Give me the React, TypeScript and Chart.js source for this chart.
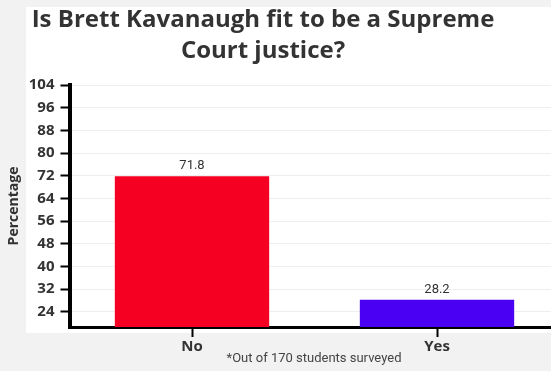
import React, { useEffect, useRef } from "react";
import { Chart, registerables } from "chart.js";
Chart.register(...registerables);

const categories = ["No", "Yes"];
const values = [71.8, 28.2];
const barColors = ["#F50022", "#4A00F2"];
const yTicks = [24, 32, 40, 48, 56, 64, 72, 80, 88, 96, 104];
const yMin = 18.6;
const yMax = 104;
const titleLines = ["Is Brett Kavanaugh fit to be a Supreme", "Court justice?"];
const yAxisTitle = "Percentage";
const footnote = "*Out of 170 students surveyed";

const CANVAS_W = 570;
const CANVAS_H = 371;

const decorPlugin = {
  id: "decor",
  beforeDraw(chart: any) {
    const { ctx, chartArea } = chart;
    ctx.save();
    ctx.fillStyle = "#f2f2f2";
    ctx.fillRect(0, 0, chart.width, chart.height);
    ctx.fillStyle = "#ffffff";
    ctx.fillRect(26, 7, chart.width - 26, chartArea.bottom + 6 - 7);
    ctx.restore();
  },
  afterDraw(chart: any) {
    const { ctx } = chart;
    ctx.save();
    ctx.fillStyle = "#333333";
    ctx.textAlign = "center";
    ctx.textBaseline = "alphabetic";
    ctx.font = "bold 24px 'Open Sans'";
    ctx.fillText(titleLines[0], 263, 27);
    ctx.fillText(titleLines[1], 263, 58);
    ctx.font = "13px Roboto";
    ctx.fillStyle = "#444444";
    ctx.fillText(footnote, 314, 362);
    const meta = chart.getDatasetMeta(0);
    ctx.font = "13px Roboto";
    ctx.fillStyle = "#333333";
    meta.data.forEach((bar: any, i: number) => {
      ctx.fillText(String(values[i]), bar.x, bar.y - 7);
    });
    ctx.restore();
  },
};

export default function App() {
  const ref = useRef<HTMLCanvasElement>(null);
  useEffect(() => {
    if (!ref.current) return;
    const chart = new Chart(ref.current, {
      type: "bar",
      data: {
        labels: categories,
        datasets: [
          {
            data: values,
            backgroundColor: barColors,
            borderWidth: 0,
            barPercentage: 0.63,
            categoryPercentage: 1,
          },
        ],
      },
      options: {
        responsive: false,
        animation: false,
        devicePixelRatio: 1,
        layout: { padding: { top: 85, right: 10.5, left: 0, bottom: 0 } },
        plugins: {
          legend: { display: false },
          title: { display: false },
          tooltip: { enabled: false },
        },
        scales: {
          x: {
            afterFit: (s: any) => {
              s.height = 44;
            },
            border: { color: "#000", width: 3 },
            grid: {
              offset: false,
              drawOnChartArea: false,
              tickColor: "#000",
              tickLength: 10,
              tickWidth: 2,
            },
            ticks: {
              color: "#333",
              font: { family: "'Open Sans'", weight: "bold", size: 15 },
              padding: 1,
            },
          },
          y: {
            min: yMin,
            max: yMax,
            afterBuildTicks: (s: any) => {
              s.ticks = yTicks.map((v) => ({ value: v }));
            },
            afterFit: (s: any) => {
              s.width = 69.5;
            },
            border: { color: "#000", width: 4 },
            grid: {
              color: "#eeeeee",
              lineWidth: 1,
              tickColor: "#000",
              tickLength: 9,
              tickWidth: 2,
            },
            ticks: {
              color: "#333",
              font: { family: "'Open Sans'", weight: "bold", size: 15 },
              padding: 6,
            },
            title: {
              display: true,
              text: yAxisTitle,
              color: "#333",
              font: { family: "'Open Sans'", weight: "bold", size: 14 },
              padding: { top: 6, bottom: 0 },
            },
          },
        },
      },
      plugins: [decorPlugin],
    } as any);
    return () => chart.destroy();
  }, []);
  return (
    <div
      style={{
        position: "fixed",
        left: 0,
        top: 0,
        width: 551,
        height: 371,
        overflow: "hidden",
        background: "#f2f2f2",
      }}
    >
      <canvas
        ref={ref}
        width={CANVAS_W}
        height={CANVAS_H}
        style={{ display: "block", width: CANVAS_W, height: CANVAS_H }}
      />
    </div>
  );
}
